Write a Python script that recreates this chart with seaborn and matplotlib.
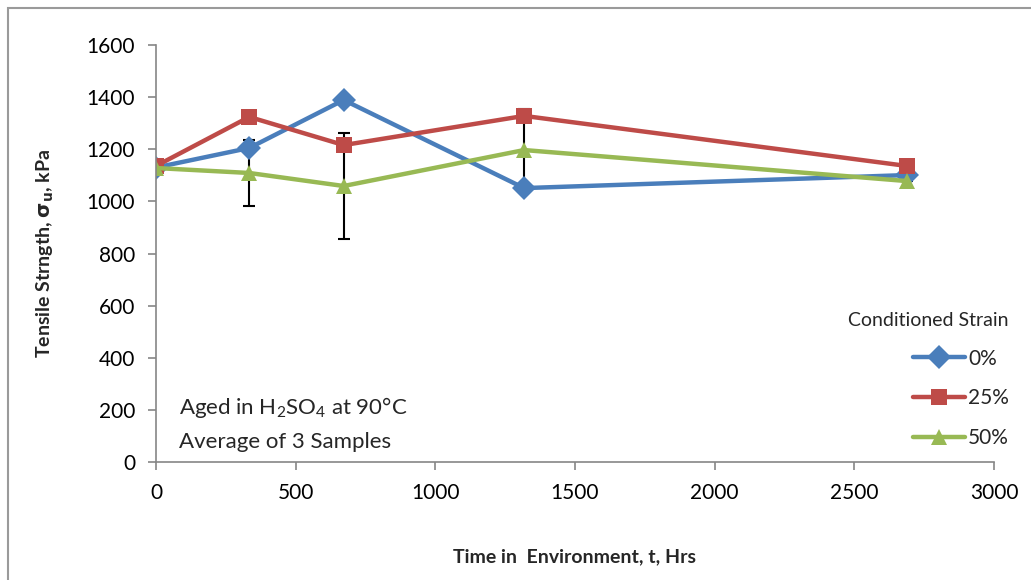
import matplotlib
matplotlib.use("Agg")
import matplotlib.pyplot as plt
import seaborn as sns
import pandas as pd
import numpy as np
from matplotlib.patches import Rectangle

# Data
hours = [0, 334, 672, 1318, 2688]
strain_labels = ["0%", "25%", "50%"]
s0 = [1130, 1205, 1389, 1051, 1101]
s25 = [1136, 1324, 1216, 1328, 1136]
s50 = [1128, 1109, 1059, 1197, 1078]
s50_err = [0, 127, 205, 158, 0]

colors = ["#4A7EBB", "#BE4B48", "#98B954"]
markers = ["D", "s", "^"]

sns.set_theme(style="white")
plt.rcParams['font.family'] = ['Lato', 'DejaVu Sans']
plt.rcParams['mathtext.fontset'] = 'custom'
plt.rcParams['mathtext.rm'] = 'Lato'
plt.rcParams['mathtext.bf'] = 'DejaVu Sans:bold'

df = pd.DataFrame({
    "t": hours * 3,
    "v": s0 + s25 + s50,
    "Strain": sum([[lab] * len(hours) for lab in strain_labels], []),
})

fig = plt.figure(figsize=(10.31, 5.8), dpi=100)
ax = fig.add_axes([0.1513, 0.2034, 0.8128, 0.719])

ax.errorbar(hours, s50, yerr=s50_err, fmt='none', ecolor='black',
            elinewidth=1.5, capsize=4, capthick=1.5, zorder=1)

sns.lineplot(data=df, x="t", y="v", hue="Strain", style="Strain",
             palette=dict(zip(strain_labels, colors)),
             markers=dict(zip(strain_labels, markers)),
             dashes=False, linewidth=3.2, markersize=12,
             markeredgewidth=0, ax=ax, zorder=2, legend=True)

ax.set_xlim(0, 3000)
ax.set_ylim(0, 1600)
ax.set_xticks(np.arange(0, 3001, 500))
ax.set_yticks(np.arange(0, 1601, 200))
for s in ["top", "right"]:
    ax.spines[s].set_visible(False)
for s in ["left", "bottom"]:
    ax.spines[s].set_color("#868686")
    ax.spines[s].set_linewidth(1.2)
ax.tick_params(axis='both', which='major', labelsize=15, colors='#868686',
               labelcolor='black', length=6, width=1.2, direction='out')
ax.tick_params(axis='x', pad=9)
ax.tick_params(axis='y', pad=9)
ax.yaxis.set_ticks_position('left')
ax.xaxis.set_ticks_position('bottom')

ax.set_xlabel("Time in  Environment, t, Hrs", fontsize=14, fontweight='bold', labelpad=33)
ax.set_ylabel(r"Tensile Strngth, $\mathbf{\sigma_u}$, kPa", fontsize=14,
              fontweight='bold', labelpad=22)

leg = ax.legend(title="Conditioned Strain", loc='lower right',
                bbox_to_anchor=(1.04, -0.012), frameon=False, fontsize=15,
                title_fontsize=14, handlelength=2.5, handletextpad=0.15,
                labelspacing=0.95)
leg._legend_box.align = "right"
for h in leg.legend_handles:
    h.set_linewidth(3.2)
    h.set_markersize(12)

ax.text(0.027, 0.10, r"Aged in H$_2$SO$_4$ at 90°C", transform=ax.transAxes,
        fontsize=16, va='bottom', ha='left')
ax.text(0.027, 0.025, "Average of 3 Samples", transform=ax.transAxes,
        fontsize=16, va='bottom', ha='left')

fig.patches.append(Rectangle((0.0075, -0.05), 1.05, 1 - 0.0138 + 0.05,
                             transform=fig.transFigure, fill=False,
                             edgecolor='#9a9a9a', linewidth=1.5))

fig.savefig("out.png", dpi=100)
